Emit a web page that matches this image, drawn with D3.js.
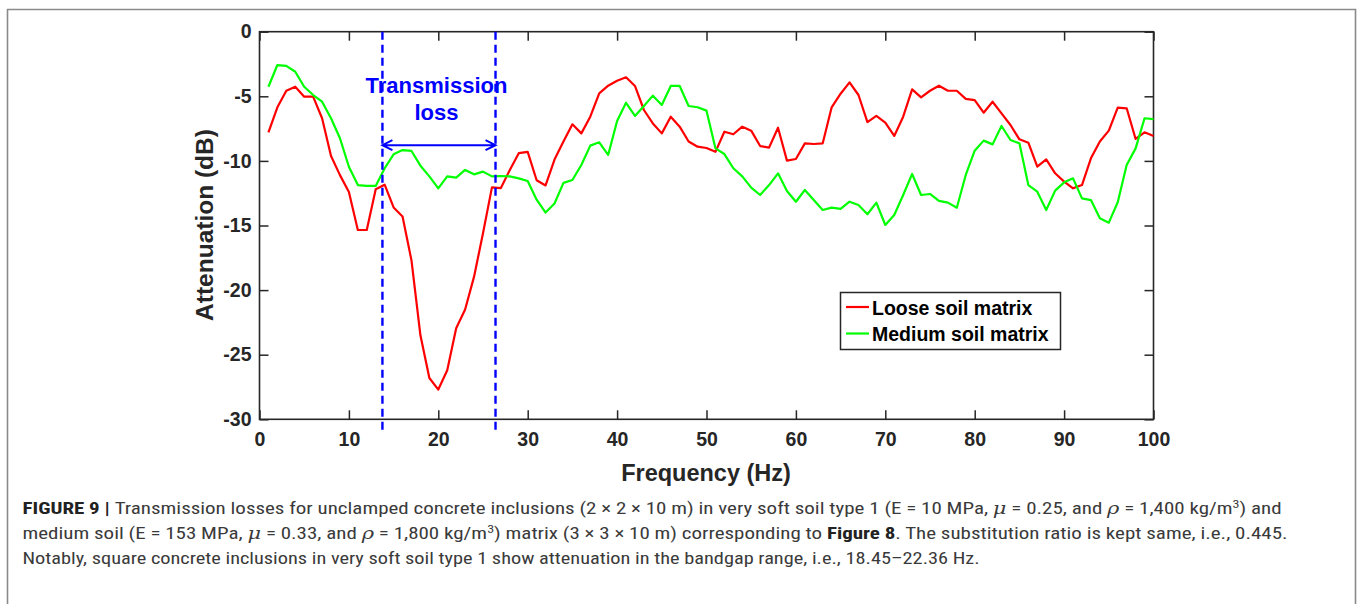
<!DOCTYPE html>
<html>
<head>
<meta charset="utf-8">
<script src="https://cdn.jsdelivr.net/npm/d3@7"></script>
<style>
    body { margin: 0; background: #fff; }
    svg { display: block; }
</style>
</head>
<body>
<svg id="chart" width="1362" height="604"></svg>
<script>
// frequency steps (Hz)
const freqs = [1, 2, 3, 4, 5, 6, 7, 8, 9, 10, 11, 12, 13, 14, 15, 16, 17, 18, 19, 20,
    21, 22, 23, 24, 25, 26, 27, 28, 29, 30, 31, 32, 33, 34, 35, 36, 37, 38, 39, 40,
    41, 42, 43, 44, 45, 46, 47, 48, 49, 50, 51, 52, 53, 54, 55, 56, 57, 58, 59, 60,
    61, 62, 63, 64, 65, 66, 67, 68, 69, 70, 71, 72, 73, 74, 75, 76, 77, 78, 79, 80,
    81, 82, 83, 84, 85, 86, 87, 88, 89, 90, 91, 92, 93, 94, 95, 96, 97, 98, 99, 100]

// attenuation (dB)
const looseSoil = [-7.8, -5.85, -4.57, -4.26, -5.03, -5.03, -6.7, -9.62, -11.1, -12.4,
    -15.35, -15.35, -12.2, -11.84, -13.6, -14.3, -17.7, -23.5, -26.8, -27.7,
    -26.2, -22.96, -21.5, -18.96, -15.6, -12.05, -12.1, -10.7, -9.4, -9.3,
    -11.5, -11.9, -9.9, -8.5, -7.17, -7.87, -6.58, -4.77, -4.18, -3.8,
    -3.53, -4.2, -6.06, -7.1, -7.87, -6.58, -7.35, -8.5, -8.9, -9.0,
    -9.3, -7.74, -7.94, -7.35, -7.66, -8.85, -8.97, -7.43, -9.98, -9.85,
    -8.64, -8.69, -8.64, -5.85, -4.8, -3.92, -4.9, -7.0, -6.52, -7.04,
    -8.07, -6.58, -4.46, -5.08, -4.57, -4.18, -4.57, -4.57, -5.2, -5.29,
    -6.27, -5.42, -6.32, -7.22, -8.33, -8.59, -10.45, -9.88, -10.96, -11.6,
    -12.12, -11.87, -9.8, -8.5, -7.66, -5.88, -5.93, -8.3, -7.79, -8.07]

const mediumSoil = [-4.26, -2.58, -2.65, -3.1, -4.26, -4.9, -5.42, -6.7, -8.25, -10.45,
    -11.87, -11.94, -11.94, -10.57, -9.49, -9.16, -9.23, -10.37, -11.2, -12.12,
    -11.2, -11.3, -10.7, -11.04, -10.83, -11.2, -11.17, -11.2, -11.35, -11.56,
    -13.0, -14.0, -13.3, -11.7, -11.48, -10.32, -8.82, -8.56, -9.54, -6.91,
    -5.5, -6.52, -5.75, -4.95, -5.67, -4.2, -4.2, -5.75, -5.85, -6.11,
    -9.03, -9.47, -10.57, -11.2, -12.07, -12.64, -11.87, -10.96, -12.33, -13.16,
    -12.25, -13.03, -13.8, -13.62, -13.72, -13.16, -13.41, -14.13, -13.23, -14.96,
    -14.19, -12.64, -11.01, -12.64, -12.56, -13.1, -13.23, -13.62, -11.09, -9.21,
    -8.43, -8.72, -7.3, -8.38, -8.64, -11.87, -12.38, -13.8, -12.3, -11.66,
    -11.35, -12.9, -13.03, -14.44, -14.78, -13.2, -10.32, -9.03, -6.7, -6.76]

const xTicks = [0, 10, 20, 30, 40, 50, 60, 70, 80, 90, 100]
const yTicks = [0, -5, -10, -15, -20, -25, -30]

// transmission loss band (Hz) and arrow level (dB)
const bandEdges = [13.75, 26.4]
const arrowLevel = -8.78

const seriesNames = ['Loose soil matrix', 'Medium soil matrix']
const seriesColors = ['#ff0000', '#00ff00']

const axisColor = '#262626'
const font = '"Liberation Sans", Arial, sans-serif'

const svg = d3.select('#chart')

const x = d3.scaleLinear().domain([0, 100]).range([259.5, 1153.5])
const y = d3.scaleLinear().domain([-30, 0]).range([419.3, 31.7])

// outer figure frame
svg.append('path')
    .attr('d', 'M7.5,604 V9.5 H1355.5 V604')
    .attr('fill', 'none')
    .attr('stroke', '#8a8a8a')
    .attr('stroke-width', 1.6)

const plot = svg.append('g')

// axes with inward ticks, plain hyphen minus like the original
const axBottom = plot.append('g')
    .attr('transform', `translate(0,${y(-30)})`)
    .call(d3.axisBottom(x).tickValues(xTicks).tickSizeInner(-9).tickSizeOuter(0).tickPadding(13).tickFormat(d => String(d)))
const axTop = plot.append('g')
    .attr('transform', `translate(0,${y(0)})`)
    .call(d3.axisTop(x).tickValues(xTicks).tickSizeInner(-9).tickSizeOuter(0).tickFormat(''))
const axLeft = plot.append('g')
    .attr('transform', `translate(${x(0)},0)`)
    .call(d3.axisLeft(y).tickValues(yTicks).tickSizeInner(-9).tickSizeOuter(0).tickPadding(8).tickFormat(d => String(d)))
const axRight = plot.append('g')
    .attr('transform', `translate(${x(100)},0)`)
    .call(d3.axisRight(y).tickValues(yTicks).tickSizeInner(-9).tickSizeOuter(0).tickFormat(''))

;[axBottom, axTop, axLeft, axRight].forEach(g => {
    g.select('.domain').remove()
    g.selectAll('.tick line').attr('stroke', axisColor).attr('stroke-width', 1.5)
    g.selectAll('.tick text')
        .attr('fill', axisColor)
        .style('font-family', font)
        .style('font-weight', 'bold')
        .style('font-size', '19.5px')
})

plot.append('rect')
    .attr('x', x(0)).attr('y', y(0))
    .attr('width', x(100) - x(0)).attr('height', y(-30) - y(0))
    .attr('fill', 'none')
    .attr('stroke', axisColor)
    .attr('stroke-width', 1.6)

// data lines
const line = d3.line()
    .x((d, i) => x(freqs[i]))
    .y(d => y(d))

;[looseSoil, mediumSoil].forEach((vals, i) => {
    plot.append('path')
        .datum(vals)
        .attr('d', line)
        .attr('fill', 'none')
        .attr('stroke', seriesColors[i])
        .attr('stroke-width', 2.2)
        .attr('stroke-linejoin', 'round')
})

// transmission loss band markers
plot.selectAll('line.band')
    .data(bandEdges)
    .enter()
    .append('line')
    .attr('class', 'band')
    .attr('x1', d => x(d)).attr('x2', d => x(d))
    .attr('y1', y(0)).attr('y2', y(-30.8))
    .attr('stroke', '#0000ff')
    .attr('stroke-width', 2.4)
    .attr('stroke-dasharray', '8,5')

const ay = y(arrowLevel)
const ax1 = x(bandEdges[0]), ax2 = x(bandEdges[1])
plot.append('path')
    .attr('d', `M${ax1},${ay} H${ax2} M${ax1 + 10},${ay - 5} L${ax1},${ay} L${ax1 + 10},${ay + 5} M${ax2 - 10},${ay - 5} L${ax2},${ay} L${ax2 - 10},${ay + 5}`)
    .attr('fill', 'none')
    .attr('stroke', '#0000ff')
    .attr('stroke-width', 2)

plot.selectAll('text.annot')
    .data(['Transmission', 'loss'])
    .enter()
    .append('text')
    .attr('class', 'annot')
    .attr('x', 436.5)
    .attr('y', (d, i) => 93 + i * 27)
    .attr('text-anchor', 'middle')
    .attr('fill', '#0000ff')
    .style('font-family', font)
    .style('font-weight', 'bold')
    .style('font-size', '22px')
    .text(d => d)

// legend
const legend = plot.append('g')
legend.append('rect')
    .attr('x', 840.5).attr('y', 292.5)
    .attr('width', 220).attr('height', 57)
    .attr('fill', '#fff')
    .attr('stroke', axisColor)
    .attr('stroke-width', 1.5)

const legendRows = legend.selectAll('g')
    .data(seriesNames)
    .enter()
    .append('g')
    .attr('transform', (d, i) => `translate(846,${307 + i * 26.5})`)

legendRows.append('line')
    .attr('x1', 0).attr('x2', 23)
    .attr('stroke', (d, i) => seriesColors[i])
    .attr('stroke-width', 2.2)

legendRows.append('text')
    .attr('x', 26)
    .attr('y', 7.5)
    .attr('fill', '#000')
    .style('font-family', font)
    .style('font-weight', 'bold')
    .style('font-size', '19.5px')
    .text(d => d)

// axis titles
svg.append('text')
    .attr('x', 706).attr('y', 480.5)
    .attr('text-anchor', 'middle')
    .attr('fill', axisColor)
    .style('font-family', font)
    .style('font-weight', 'bold')
    .style('font-size', '23.5px')
    .text('Frequency (Hz)')

svg.append('text')
    .attr('transform', 'translate(212.5,225) rotate(-90)')
    .attr('text-anchor', 'middle')
    .attr('fill', axisColor)
    .style('font-family', font)
    .style('font-weight', 'bold')
    .style('font-size', '24.5px')
    .text('Attenuation (dB)')

// caption, each line squeezed to the measured width
const captionLines = [
    [['b', 'FIGURE 9 | '], ['', 'Transmission losses for unclamped concrete inclusions (2 × 2 × 10 m) in very soft soil type 1 (E = 10 MPa, '],
        ['m', 'μ'], ['', ' = 0.25, and '], ['m', 'ρ'], ['', ' = 1,400 kg/m'], ['sup', '3'], ['', ') and']],
    [['', 'medium soil (E = 153 MPa, '], ['m', 'μ'], ['', ' = 0.33, and '], ['m', 'ρ'], ['', ' = 1,800 kg/m'], ['sup', '3'],
        ['', ') matrix (3 × 3 × 10 m) corresponding to '], ['b', 'Figure 8'], ['', '. The substitution ratio is kept same, i.e., 0.445.']],
    [['', 'Notably, square concrete inclusions in very soft soil type 1 show attenuation in the bandgap range, i.e., 18.45–22.36 Hz.']]
]
const captionWidths = [1260, 1266, 958]
const captionX = 22.5
const captionY = [514, 539, 564]

captionLines.forEach((parts, li) => {
    const t = svg.append('text')
        .attr('fill', '#3a3a3a')
        .style('font-family', '"Liberation Sans Narrow", "Roboto Condensed", "DejaVu Sans Condensed", "Liberation Sans", sans-serif')
        .style('font-size', '16.5px')
    let raised = false
    parts.forEach(([kind, str]) => {
        const s = t.append('tspan').text(str)
        if (kind === 'b') s.style('font-weight', 'bold').attr('fill', '#222')
        if (kind === 'm') s.style('font-style', 'italic').style('font-family', '"DejaVu Serif", serif')
        if (kind === 'sup') {
            s.style('font-size', '11px').attr('dy', -6)
            raised = true
        } else if (raised) {
            s.attr('dy', 6)
            raised = false
        }
    })
    const w = t.node().getBBox().width
    t.attr('transform', `translate(${captionX},${captionY[li]}) scale(${captionWidths[li] / w},1)`)
})
</script>
</body>
</html>
